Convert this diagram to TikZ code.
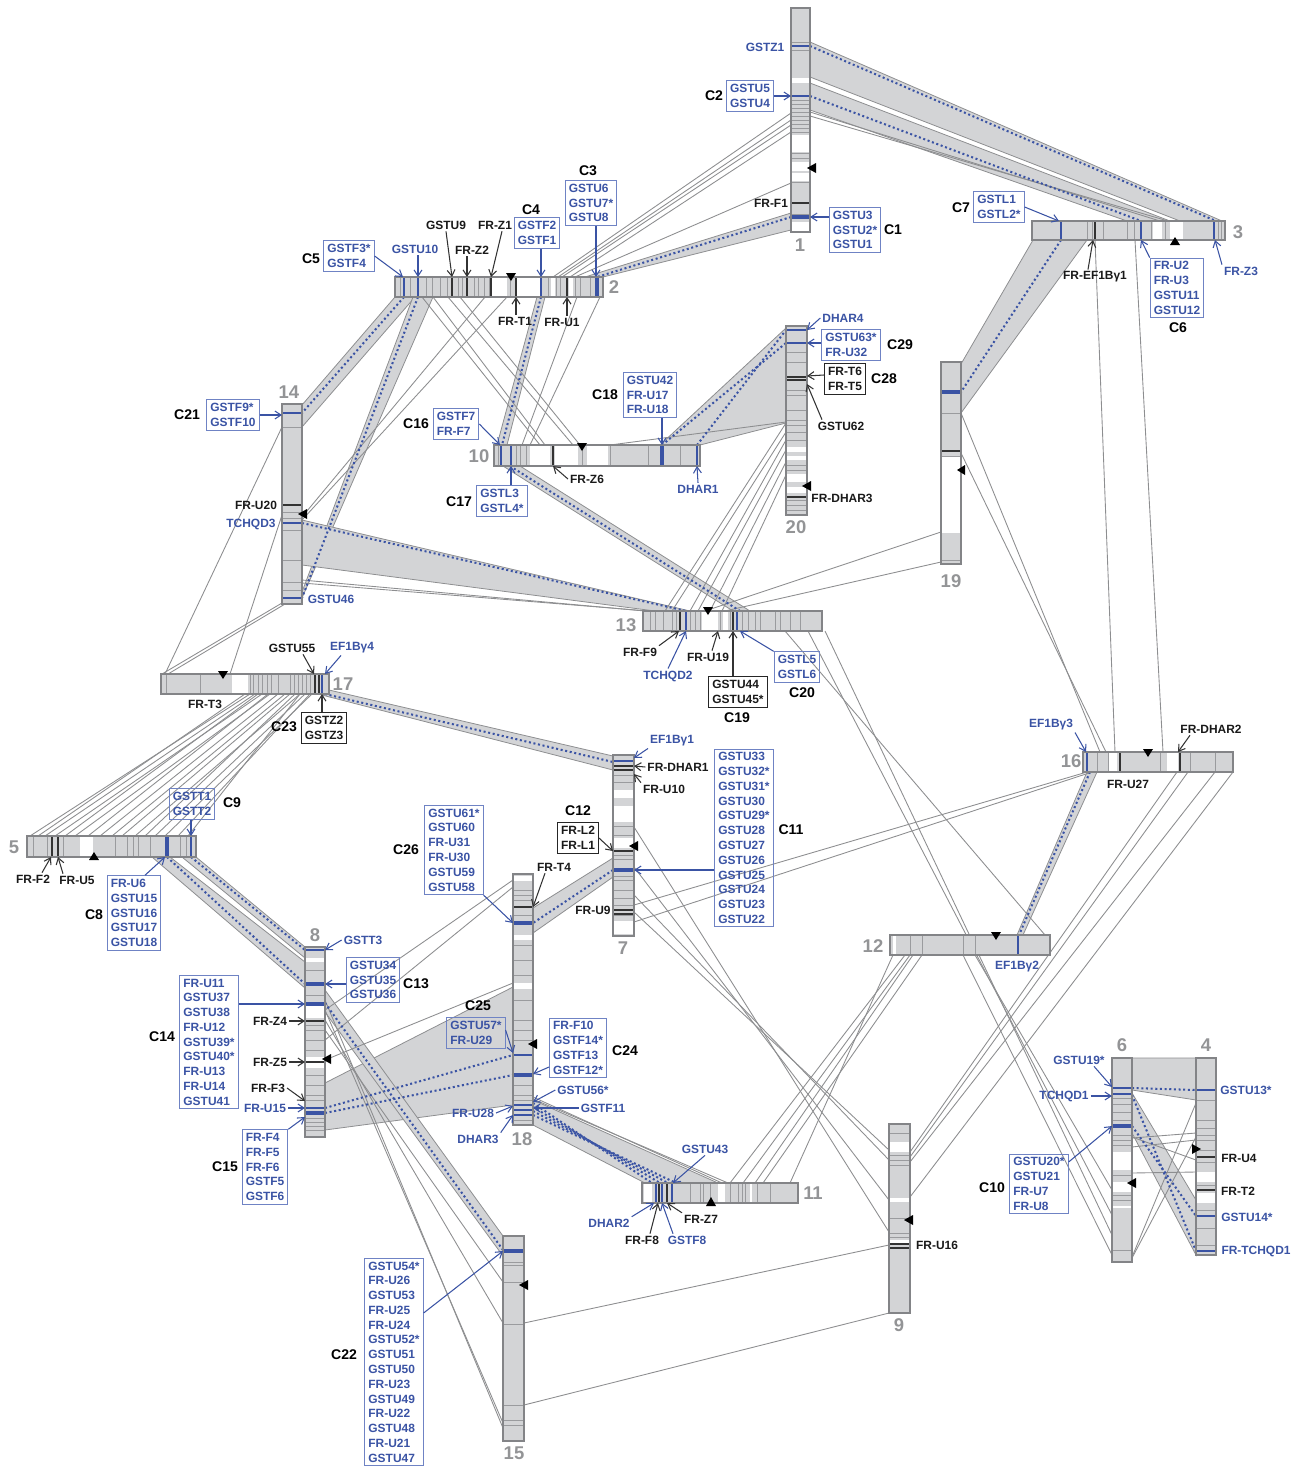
\documentclass[tikz,border=0pt]{standalone}
\usepackage{fontspec}
\setmainfont{Liberation Sans}
\usetikzlibrary{arrows.meta,fit}
\definecolor{synblue}{HTML}{3A53A4}
\definecolor{boxblue}{HTML}{6F83C4}
\definecolor{bandgray}{HTML}{D3D4D6}
\definecolor{linegray}{HTML}{8D8E90}
\definecolor{chrgray}{HTML}{838487}
\definecolor{divgray}{HTML}{9A9B9E}
\definecolor{numgray}{HTML}{939496}

\begin{document}
\begin{tikzpicture}[x=0.02cm, y=-0.02cm,
  chr/.style={fill=bandgray, inner sep=0pt, outer sep=0pt},
  chredge/.style={draw=chrgray, line width=1.4pt},
  div/.style={draw=divgray, line width=0.5pt},
  bmk/.style={draw=synblue, line width=0.9pt},
  bmkw/.style={draw=synblue, line width=1.8pt},
  kmk/.style={draw=black!80, line width=0.9pt},
  syn/.style={fill=bandgray, draw=linegray, line width=0.45pt},
  lnk/.style={draw=linegray, line width=0.5pt},
  syndot/.style={draw=synblue, line width=1.15pt, dash pattern=on 1.15pt off 1.5pt},
  gbox/.style={draw=boxblue, line width=0.6pt, text=synblue, align=left, inner sep=2pt, font=\fontsize{6.8}{8.4}\selectfont\bfseries},
  kbox/.style={gbox, draw=black!85, text=black!90},
  glab/.style={text=synblue, inner sep=1pt, font=\fontsize{6.8}{8.4}\selectfont\bfseries},
  klab/.style={glab, text=black!90},
  clab/.style={inner sep=1pt, font=\fontsize{8}{9.6}\selectfont\bfseries},
  cnum/.style={text=numgray, inner sep=1pt, font=\fontsize{10.5}{12}\selectfont\bfseries},
  bptr/.style={draw=synblue, line width=0.6pt, -{Straight Barb[length=3.5pt,width=4.5pt]}},
  kptr/.style={bptr, draw=black!80}]
  \useasboundingbox (0,0) rectangle (1301,1468);

  % syntenic blocks
  \path[syn] (810,42) -- (1222,221) -- (1180,221) -- (810,77) -- cycle;
  \path[syn] (810,83) -- (1170,221) -- (1127,221) -- (810,110) -- cycle;
  \path[syn] (791,213) -- (585,277) -- (603,277) -- (791,230) -- cycle;
  \path[syn] (1033,240) -- (1087,240) -- (961,413) -- (961,364) -- cycle;
  \path[syn] (395,297) -- (415,297) -- (302,427) -- (302,405) -- cycle;
  \path[syn] (413,297) -- (433,297) -- (302,598) -- (302,592) -- cycle;
  \path[syn] (302,520) -- (690,611) -- (655,611) -- (302,565) -- cycle;
  \path[syn] (537,297) -- (545,297) -- (507,445) -- (497,445) -- cycle;
  \path[syn] (503,466) -- (520,466) -- (750,611) -- (733,611) -- cycle;
  \path[syn] (660,445) -- (786,328) -- (786,423) -- (700,445) -- cycle;
  \path[syn] (329,690) -- (613,756) -- (613,770) -- (318,694) -- cycle;
  \path[syn] (152,857) -- (170,857) -- (305,962) -- (305,988) -- cycle;
  \path[syn] (182,857) -- (196,857) -- (305,947) -- (305,958) -- cycle;
  \path[syn] (325,1083) -- (513,987) -- (513,1105) -- (325,1130) -- cycle;
  \path[syn] (325,990) -- (503,1236) -- (503,1256) -- (325,1012) -- cycle;
  \path[syn] (533,1100) -- (718,1183) -- (645,1183) -- (533,1125) -- cycle;
  \path[syn] (613,858) -- (613,877) -- (533,933) -- (533,908) -- cycle;
  \path[syn] (1087,772) -- (1097,772) -- (1023,935) -- (1017,935) -- cycle;
  \path[syn] (1132,1058) -- (1196,1058) -- (1196,1100) -- (1132,1090) -- cycle;
  \path[syn] (1132,1093) -- (1196,1200) -- (1196,1255) -- (1132,1133) -- cycle;

  % single links
  \foreach \a/\b/\c/\d in {791/113/553/277, 791/120/558/277, 791/125/562/277, 791/132/570/277, 791/183/575/277,
      810/112/1160/221, 810/116/1168/221,
      422/297/540/445, 433/297/545/445, 448/297/573/445, 460/297/580/445, 577/297/522/445, 600/297/530/445,
      485/297/302/517, 507/297/302/520,
      282/427/165/674, 282/515/230/674, 282/603/162/674, 285/604/168/674,
      302/580/645/611, 302/583/648/611, 610/445/786/422,
      786/423/665/611, 786/432/672/611, 786/440/690/611, 786/450/698/611, 786/462/710/611, 786/475/722/611,
      941/532/705/611, 941/562/725/611, 961/413/1100/752, 961/453/1106/752,
      1095/240/1115/752, 1135/240/1163/752,
      785/631/1045/935, 808/631/1112/1215, 825/631/1112/1235,
      963/955/1112/1255, 975/955/1112/1190,
      905/955/730/1183, 910/955/743/1183, 913/955/755/1183, 922/955/763/1183, 893/955/790/1183,
      1177/772/910/1152, 1188/772/910/1157, 1215/772/910/1162, 1233/772/910/1197,
      1087/772/634/905, 1092/772/634/922,
      634/827/889/1232, 634/867/889/1200, 634/895/889/1160, 634/912/889/1150,
      524/1323/889/1245, 524/1405/889/1313,
      325/1000/503/1428, 325/1010/503/1423, 325/1020/503/1323, 325/1030/503/1282,
      325/1010/513/880, 325/1040/513/887, 325/1060/513/983,
      533/1097/722/1183, 533/1099/728/1183,
      1132/1138/1196/1133, 1132/1147/1196/1140, 1132/1137/1196/1160, 1132/1173/1196/1172,
      1196/1103/1132/1257, 1196/1137/1132/1258}
    \draw[lnk] (\a,\b) -- (\c,\d);
  % fan between 17 and 5
  \foreach \a/\b in {30/250, 38/245, 45/255, 55/262, 65/258, 75/270, 88/268, 100/278,
                     112/285, 122/290, 135/300, 145/295, 155/305, 165/312, 178/310, 188/300}
    \draw[lnk] (\a,836) -- (\b,694);

  % orthologous pairs
  \foreach \a/\b/\c/\d in {810/46/1216/221, 810/96/1141/221, 791/217/597/277, 1061/240/961/392,
      404/297/302/413, 418/297/302/598, 302/523/686/611, 541/297/502/445, 510/466/740/611,
      662/445/786/343, 697/445/786/330, 325/694/613/762, 167/857/305/984, 191/857/305/950,
      325/1003/503/1250, 325/1108/513/1055, 325/1113/513/1075,
      533/1103/652/1183, 533/1107/660/1183, 533/1111/668/1183, 533/1115/676/1183,
      613/870/533/923, 1090/772/1019/935, 1132/1088/1196/1090, 1132/1095/1196/1251, 1132/1126/1196/1216}
    \draw[syndot] (\a,\b) -- (\c,\d);

  % chromosomes
  \foreach \n/\xa/\ya/\xb/\yb in {1/791/8/810/232, 2/395/277/603/297, 3/1032/221/1225/240,
      4/1196/1058/1216/1255, 5/27/836/196/857, 6/1112/1058/1132/1262, 7/613/755/634/936,
      8/305/947/325/1137, 9/889/1124/910/1313, 10/494/445/700/466, 11/642/1183/798/1203,
      12/890/935/1050/955, 13/643/611/822/631, 14/282/404/302/604, 15/503/1236/524/1441,
      16/1083/752/1233/772, 17/161/674/329/694, 18/513/874/533/1125, 19/941/362/961/564,
      20/786/326/807/515}
    \node[chr, fit={(\xa,\ya) (\xb,\yb)}] (c\n) {};

  % 1
  \foreach \a/\b in {78/83, 135/152, 162/171, 173/181, 222/231} \fill[white] (791,\a) rectangle (810,\b);
  \foreach \y in {42,50,100,104,108,112,116,120,124,128,132,153,158,182,214} \draw[div] (791,\y) -- (810,\y);
  \draw[kmk] (791,203) -- (810,203);
  \foreach \y in {46,96} \draw[bmk] (791,\y) -- (810,\y);
  \draw[bmkw] (791,217) -- (810,217);
  % 2
  \foreach \a/\b in {492/507, 517/540, 551/555, 569/573} \fill[white] (\a,277) rectangle (\b,297);
  \foreach \x in {400,410,426,432,440,447,458,462,474,478,484,489,510,548,556,560,575,580,590} \draw[div] (\x,277) -- (\x,297);
  \foreach \x in {452,467,491,516,567} \draw[kmk] (\x,277) -- (\x,297);
  \foreach \x in {404,418,541} \draw[bmk] (\x,277) -- (\x,297);
  \draw[bmkw] (597,277) -- (597,297);
  % 3
  \foreach \a/\b in {1153/1162, 1170/1183} \fill[white] (\a,221) rectangle (\b,240);
  \foreach \x in {1087,1092,1103,1127,1134,1151,1165,1218,1221} \draw[div] (\x,221) -- (\x,240);
  \draw[kmk] (1095,221) -- (1095,240);
  \foreach \x in {1061,1141,1214} \draw[bmk] (\x,221) -- (\x,240);
  % 14
  \foreach \y in {427,512,518,530,560,582,590} \draw[div] (282,\y) -- (302,\y);
  \draw[kmk] (282,505) -- (302,505);
  \foreach \y in {413,523,598} \draw[bmk] (282,\y) -- (302,\y);
  % 10
  \foreach \a/\b in {530/550, 555/578, 587/608} \fill[white] (\a,445) rectangle (\b,466);
  \foreach \x in {498,516,520,526,582,610,648,680} \draw[div] (\x,445) -- (\x,466);
  \draw[kmk] (553,445) -- (553,466);
  \foreach \x in {501,511,697} \draw[bmk] (\x,445) -- (\x,466);
  \draw[bmkw] (662,445) -- (662,466);
  % 20
  \foreach \a/\b in {447/452, 456/460, 474/482, 487/493} \fill[white] (786,\a) rectangle (807,\b);
  \foreach \y in {352,362,390,395,410,420,425,432,440,465,470,500,505,510} \draw[div] (786,\y) -- (807,\y);
  \foreach \y in {377,380,497} \draw[kmk] (786,\y) -- (807,\y);
  \foreach \y in {330,343} \draw[bmk] (786,\y) -- (807,\y);
  % 19
  \fill[white] (941,457) rectangle (961,533);
  \foreach \y in {413,456,560} \draw[div] (941,\y) -- (961,\y);
  \draw[kmk] (941,451) -- (961,451);
  \draw[bmkw] (941,392) -- (961,392);
  % 13
  \foreach \a/\b in {702/718, 723/728} \fill[white] (\a,611) rectangle (\b,631);
  \foreach \x in {650,655,663,672,676,690,695,700,720,730,742,748,755,760,775,780,790,800} \draw[div] (\x,611) -- (\x,631);
  \draw[kmk] (680,611) -- (680,631);
  \draw[kmk, line width=1.6pt] (733,611) -- (733,631);
  \foreach \x in {686,737} \draw[bmk] (\x,611) -- (\x,631);
  % 17
  \fill[white] (232,674) rectangle (248,694);
  \foreach \x in {166,200,250,253,258,262,267,271,278,290,294,298,302,306,310} \draw[div] (\x,674) -- (\x,694);
  \foreach \x in {315,319} \draw[kmk] (\x,674) -- (\x,694);
  \draw[bmk] (322,674) -- (322,694);
  % 5
  \fill[white] (80,836) rectangle (93,857);
  \foreach \x in {33,47,63,115,127,133,138,150,180,186} \draw[div] (\x,836) -- (\x,857);
  \foreach \x in {52,58} \draw[kmk] (\x,836) -- (\x,857);
  \draw[bmk] (191,836) -- (191,857);
  \draw[bmkw] (167,836) -- (167,857);
  % 7
  \foreach \a/\b in {790/798, 806/822, 838/848, 921/934} \fill[white] (613,\a) rectangle (634,\b);
  \foreach \y in {775,782,826,835,855,859,876,880,890,898,905,915} \draw[div] (613,\y) -- (634,\y);
  \foreach \y in {766,770,851,910,914} \draw[kmk] (613,\y) -- (634,\y);
  \draw[bmk] (613,761) -- (634,761);
  \draw[bmkw] (613,870) -- (634,870);
  % 8
  \foreach \a/\b in {958/962, 1006/1018, 1057/1068} \fill[white] (305,\a) rectangle (325,\b);
  \foreach \y in {970,995,1025,1030,1040,1050,1075,1085,1095,1100,1118,1122,1126,1130} \draw[div] (305,\y) -- (325,\y);
  \foreach \y in {1021,1062} \draw[kmk] (305,\y) -- (325,\y);
  \foreach \y in {950,1108} \draw[bmk] (305,\y) -- (325,\y);
  \foreach \y in {984,1004,1113} \draw[bmkw] (305,\y) -- (325,\y);
  % 18
  \foreach \a/\b in {876/881, 935/940, 983/989} \fill[white] (513,\a) rectangle (533,\b);
  \foreach \y in {890,895,900,915,945,960,975,1000,1020,1030,1040,1085,1095,1100,1120} \draw[div] (513,\y) -- (533,\y);
  \draw[kmk] (513,907) -- (533,907);
  \foreach \y in {1055,1105,1110,1115} \draw[bmk] (513,\y) -- (533,\y);
  \foreach \y in {923,1075} \draw[bmkw] (513,\y) -- (533,\y);
  % 16
  \foreach \a/\b in {1109/1117, 1167/1178} \fill[white] (\a,752) rectangle (\b,772);
  \foreach \x in {1097,1108,1160,1190,1215} \draw[div] (\x,752) -- (\x,772);
  \foreach \x in {1120,1180} \draw[kmk] (\x,752) -- (\x,772);
  \draw[bmk] (1087,752) -- (1087,772);
  % 12
  \fill[white] (893,935) rectangle (896,955);
  \foreach \x in {910,922,963,975} \draw[div] (\x,935) -- (\x,955);
  \draw[bmk] (1018,935) -- (1018,955);
  % 11
  \foreach \a/\b in {644/652, 718/725, 750/752} \fill[white] (\a,1183) rectangle (\b,1203);
  \foreach \x in {690,700,703,710,730,738,742,745,757,770} \draw[div] (\x,1183) -- (\x,1203);
  \foreach \x in {659,667} \draw[kmk] (\x,1183) -- (\x,1203);
  \foreach \x in {656,662,672} \draw[bmk] (\x,1183) -- (\x,1203);
  % 15
  \foreach \y in {1262,1265,1282,1324,1405,1420,1425} \draw[div] (503,\y) -- (524,\y);
  \draw[bmkw] (503,1251) -- (524,1251);
  % 9
  \foreach \a/\b in {1142/1152, 1198/1202, 1240/1243} \fill[white] (889,\a) rectangle (910,\b);
  \foreach \y in {1133,1155,1160,1165,1218,1233,1237} \draw[div] (889,\y) -- (910,\y);
  \foreach \y in {1244,1248} \draw[kmk] (889,\y) -- (910,\y);
  % 6
  \foreach \a/\b in {1152/1170, 1182/1192, 1206/1208} \fill[white] (1112,\a) rectangle (1132,\b);
  \foreach \y in {1098,1104,1112,1120,1135,1140,1145,1175,1195,1200,1250} \draw[div] (1112,\y) -- (1132,\y);
  \foreach \y in {1088,1094} \draw[bmk] (1112,\y) -- (1132,\y);
  \draw[bmkw] (1112,1126) -- (1132,1126);
  % 4
  \foreach \a/\b in {1172/1182, 1193/1203} \fill[white] (1196,\a) rectangle (1216,\b);
  \foreach \y in {1100,1120,1128,1135,1140,1150,1162,1185,1210,1228,1245} \draw[div] (1196,\y) -- (1216,\y);
  \foreach \y in {1157,1190} \draw[kmk] (1196,\y) -- (1216,\y);
  \foreach \y in {1090,1216,1251} \draw[bmk] (1196,\y) -- (1216,\y);

  % outlines
  \foreach \n in {1,...,20} \draw[chredge] (c\n.south west) rectangle (c\n.north east);

  % centromeres
  \fill (807,168) -- (816,163) -- (816,173) -- cycle;
  \fill (511,281) -- (506,273) -- (516,273) -- cycle;
  \fill (1175,237) -- (1170,245) -- (1180,245) -- cycle;
  \fill (298,514) -- (307,509) -- (307,519) -- cycle;
  \fill (582,451) -- (577,443) -- (587,443) -- cycle;
  \fill (802,486) -- (811,481) -- (811,491) -- cycle;
  \fill (957,470) -- (965,465) -- (965,475) -- cycle;
  \fill (708,615) -- (703,607) -- (713,607) -- cycle;
  \fill (223,679) -- (218,671) -- (228,671) -- cycle;
  \fill (94,852) -- (89,860) -- (99,860) -- cycle;
  \fill (322,1059) -- (331,1054) -- (331,1064) -- cycle;
  \fill (629,846) -- (638,841) -- (638,851) -- cycle;
  \fill (528,1044) -- (537,1039) -- (537,1049) -- cycle;
  \fill (1148,757) -- (1143,749) -- (1153,749) -- cycle;
  \fill (996,940) -- (991,932) -- (1001,932) -- cycle;
  \fill (711,1197) -- (706,1206) -- (716,1206) -- cycle;
  \fill (519,1285) -- (528,1280) -- (528,1290) -- cycle;
  \fill (904,1220) -- (913,1215) -- (913,1225) -- cycle;
  \fill (1127,1183) -- (1136,1178) -- (1136,1188) -- cycle;
  \fill (1201,1149) -- (1192,1144) -- (1192,1154) -- cycle;

  % chromosome numbers
  \foreach \n/\x/\y in {1/800/245, 2/614/287, 3/1238/232, 4/1206/1045, 5/14/847, 6/1122/1045,
      7/623/948, 8/315/935, 9/899/1325, 10/479/456, 11/813/1193, 12/873/946, 13/626/625,
      14/289/392, 15/514/1453, 16/1071/761, 17/343/684, 18/522/1139, 19/951/581, 20/796/527}
    \node[cnum] (n\n) at (\x,\y) {\n};

  % labels on 1
  \node[glab] (lZ1) at (765,47) {GSTZ1};
  \node[clab] (tC2) at (714,96) {C2};
  \node[gbox] (bC2) at (750,96) {GSTU5\\GSTU4};
  \node[klab] (lF1) at (771,203) {FR-F1};
  \node[gbox] (bC1) at (855,230) {GSTU3\\GSTU2*\\GSTU1};
  \node[clab] (tC1) at (893,230) {C1};
  \draw[bptr] (bC2.east) -- (bC2.east -| c1.west);
  \draw[bptr] (bC1.west |- 0,217) -- (c1.east |- 0,217);

  % labels on 2
  \node[clab] (tC3) at (588,171) {C3};
  \node[gbox] (bC3) at (591,203) {GSTU6\\GSTU7*\\GSTU8};
  \node[clab] (tC4) at (531,210) {C4};
  \node[gbox] (bC4) at (537,233) {GSTF2\\GSTF1};
  \node[klab] (lU9) at (446,225) {GSTU9};
  \node[klab] (lZ1b) at (495,225) {FR-Z1};
  \node[klab] (lZ2) at (472,250) {FR-Z2};
  \node[glab] (lU10) at (415,249) {GSTU10};
  \node[clab] (tC5) at (311,259) {C5};
  \node[gbox] (bC5) at (349,256) {GSTF3*\\GSTF4};
  \node[klab] (lT1) at (515,321) {FR-T1};
  \node[klab] (lU1) at (562,322) {FR-U1};
  \draw[bptr] (bC3.south -| 596,0) -- (c2.north -| 596,0);
  \draw[bptr] (bC4.south -| 541,0) -- (c2.north -| 541,0);
  \draw[kptr] (lU9.south) -- (c2.north -| 452,0);
  \draw[kptr] (lZ1b.south -| 502,0) -- (c2.north -| 491,0);
  \draw[kptr] (lZ2.south -| 467,0) -- (c2.north -| 467,0);
  \draw[bptr] (lU10.south -| 418,0) -- (c2.north -| 418,0);
  \draw[bptr] (bC5.east) -- (c2.north -| 403,0);
  \draw[kptr] (lT1.north -| 516,0) -- (c2.south -| 516,0);
  \draw[kptr] (lU1.north -| 567,0) -- (c2.south -| 567,0);

  % labels on 3
  \node[clab] (tC7) at (961,208) {C7};
  \node[gbox] (bC7) at (999,207) {GSTL1\\GSTL2*};
  \node[klab] (lEF1) at (1095,277) {FR-EF1Bγ1};
  \node[gbox] (bC6) at (1177,288) {FR-U2\\FR-U3\\GSTU11\\GSTU12};
  \node[clab] (tC6) at (1178,328) {C6};
  \node[glab] (lZ3) at (1241,271) {FR-Z3};
  \draw[bptr] (bC7.east) -- (c3.north -| 1059,0);
  \draw[kptr] (lEF1.north -| 1088,0) -- (c3.south -| 1093,0);
  \draw[bptr] (bC6.north west) -- (c3.south -| 1141,0);
  \draw[bptr] (lZ3.north west) -- (c3.south -| 1215,0);

  % labels on 20
  \node[glab] (lD4) at (843,318) {DHAR4};
  \node[gbox] (bC29) at (851,345) {GSTU63*\\FR-U32};
  \node[clab] (tC29) at (900,345) {C29};
  \node[kbox] (bC28) at (845,379) {FR-T6\\FR-T5};
  \node[clab] (tC28) at (884,379) {C28};
  \node[klab] (lU62) at (841,426) {GSTU62};
  \node[klab] (lDH3) at (842,498) {FR-DHAR3};
  \draw[bptr] (lD4.west) -- (c20.east |- 0,330);
  \draw[bptr] (bC29.west |- 0,343) -- (c20.east |- 0,343);
  \draw[kptr] (bC28.west |- 0,375) -- (c20.east |- 0,376);
  \draw[kptr] (lU62.north -| 822,0) -- (c20.east |- 0,384);

  % labels on 10
  \node[clab] (tC18) at (605,395) {C18};
  \node[gbox] (bC18) at (650,395) {GSTU42\\FR-U17\\FR-U18};
  \node[glab] (lD1) at (698,489) {DHAR1};
  \node[clab] (tC16) at (416,424) {C16};
  \node[gbox] (bC16) at (456,424) {GSTF7\\FR-F7};
  \node[clab] (tC17) at (459,502) {C17};
  \node[gbox] (bC17) at (502,501) {GSTL3\\GSTL4*};
  \node[klab] (lZ6) at (587,479) {FR-Z6};
  \draw[bptr] (bC18.south -| 662,0) -- (c10.north -| 662,0);
  \draw[bptr] (lD1.north) -- (c10.south -| 697,0);
  \draw[bptr] (bC16.east) -- (c10.north -| 500,0);
  \draw[bptr] (bC17.north -| 511,0) -- (c10.south -| 511,0);
  \draw[kptr] (lZ6.west) -- (c10.south -| 553,0);

  % labels on 14
  \node[clab] (tC21) at (187,415) {C21};
  \node[gbox] (bC21) at (233,415) {GSTF9*\\GSTF10};
  \node[klab] (lU20) at (256,505) {FR-U20};
  \node[glab] (lQ3) at (251,524) {TCHQD3};
  \node[glab] (lU46) at (331,599) {GSTU46};
  \draw[bptr] (bC21.east) -- (bC21.east -| c14.west);

  % labels on 13
  \node[klab] (lF9) at (640,652) {FR-F9};
  \node[glab] (lQ2) at (668,676) {TCHQD2};
  \node[klab] (lU19) at (708,657) {FR-U19};
  \node[kbox] (bC19) at (738,692) {GSTU44\\GSTU45*};
  \node[clab] (tC19) at (737,718) {C19};
  \node[gbox] (bC20) at (797,667) {GSTL5\\GSTL6};
  \node[clab] (tC20) at (802,693) {C20};
  \draw[kptr] (lF9.north east) -- (c13.south -| 679,0);
  \draw[bptr] (lQ2.north) -- (c13.south -| 686,0);
  \draw[kptr] (lU19.north -| 712,0) -- (c13.south -| 718,0);
  \draw[kptr] (bC19.north -| 733,0) -- (c13.south -| 733,0);
  \draw[bptr] (bC20.north west) -- (c13.south -| 740,0);

  % labels on 17
  \node[klab] (lU55) at (292,648) {GSTU55};
  \node[glab] (lE4) at (352,648) {EF1Bγ4};
  \node[klab] (lT3) at (205,704) {FR-T3};
  \node[clab] (tC23) at (284,727) {C23};
  \node[kbox] (bC23) at (324,728) {GSTZ2\\GSTZ3};
  \draw[kptr] (lU55.south -| 303,0) -- (c17.north -| 314,0);
  \draw[bptr] (lE4.south -| 341,0) -- (c17.north -| 325,0);
  \draw[kptr] (bC23.north -| 322,0) -- (c17.south -| 322,0);

  % labels on 7
  \node[glab] (lE1) at (672,741) {EF1Bγ1};
  \node[klab] (lDH1) at (678,767) {FR-DHAR1};
  \node[klab] (lU10b) at (664,789) {FR-U10};
  \node[clab] (tC12) at (578,811) {C12};
  \node[kbox] (bC12) at (578,838) {FR-L2\\FR-L1};
  \node[gbox] (bC11) at (744,838) {GSTU33\\GSTU32*\\GSTU31*\\GSTU30\\GSTU29*\\GSTU28\\GSTU27\\GSTU26\\GSTU25\\GSTU24\\GSTU23\\GSTU22};
  \node[clab] (tC11) at (791,830) {C11};
  \node[klab] (lT4) at (554,867) {FR-T4};
  \node[klab] (lU9b) at (593,910) {FR-U9};
  \node[gbox] (bC26) at (454,850) {GSTU61*\\GSTU60\\FR-U31\\FR-U30\\GSTU59\\GSTU58};
  \node[clab] (tC26) at (406,850) {C26};
  \draw[bptr] (lE1.south west) -- (c7.east |- 0,758);
  \draw[kptr] (lDH1.west) -- (c7.east |- 0,766);
  \draw[kptr] (lU10b.north west) -- (c7.east |- 0,774);
  \draw[kptr] (bC12.east) -- (c7.west |- 0,851);
  \draw[bptr] (bC11.west |- 0,870) -- (c7.east |- 0,870);
  \draw[kptr] (lT4.south -| 545,0) -- (c18.east |- 0,907);
  \draw[bptr] (bC26.south east) -- (c18.west |- 0,923);

  % labels on 5
  \node[gbox] (bC9) at (192,804) {GSTT1\\GSTT2};
  \node[clab] (tC9) at (232,803) {C9};
  \node[klab] (lF2) at (33,879) {FR-F2};
  \node[klab] (lU5) at (77,880) {FR-U5};
  \node[clab] (tC8) at (94,915) {C8};
  \node[gbox] (bC8) at (134,913) {FR-U6\\GSTU15\\GSTU16\\GSTU17\\GSTU18};
  \draw[bptr] (bC9.south -| 191,0) -- (c5.north -| 191,0);
  \draw[kptr] (lF2.north -| 42,0) -- (c5.south -| 51,0);
  \draw[kptr] (lU5.north -| 63,0) -- (c5.south -| 58,0);
  \draw[bptr] (bC8.north -| 145,0) -- (c5.south -| 165,0);

  % labels on 8
  \node[glab] (lT3b) at (363,940) {GSTT3};
  \node[gbox] (bC13) at (373,980) {GSTU34\\GSTU35\\GSTU36};
  \node[clab] (tC13) at (416,984) {C13};
  \node[clab] (tC14) at (162,1037) {C14};
  \node[gbox] (bC14) at (209,1042) {FR-U11\\GSTU37\\GSTU38\\FR-U12\\GSTU39*\\GSTU40*\\FR-U13\\FR-U14\\GSTU41};
  \node[klab] (lZ4) at (270,1021) {FR-Z4};
  \node[klab] (lZ5) at (270,1062) {FR-Z5};
  \node[klab] (lF3) at (268,1088) {FR-F3};
  \node[glab] (lU15) at (265,1108) {FR-U15};
  \node[clab] (tC15) at (225,1167) {C15};
  \node[gbox] (bC15) at (265,1167) {FR-F4\\FR-F5\\FR-F6\\GSTF5\\GSTF6};
  \draw[bptr] (lT3b.west) -- (c8.east |- 0,950);
  \draw[bptr] (bC13.west |- 0,984) -- (c8.east |- 0,984);
  \draw[bptr] (bC14.east |- 0,1004) -- (c8.west |- 0,1004);
  \draw[kptr] (lZ4.east) -- (c8.west |- 0,1021);
  \draw[kptr] (lZ5.east) -- (c8.west |- 0,1062);
  \draw[kptr] (lF3.east) -- (c8.west |- 0,1101);
  \draw[bptr] (lU15.east) -- (c8.west |- 0,1108);
  \draw[bptr] (bC15.north east) -- (c8.west |- 0,1117);

  % labels on 18
  \node[clab] (tC25) at (478,1006) {C25};
  \node[gbox] (bC25) at (476,1033) {GSTU57*\\FR-U29};
  \node[gbox] (bC24) at (578,1048) {FR-F10\\GSTF14*\\GSTF13\\GSTF12*};
  \node[clab] (tC24) at (625,1051) {C24};
  \node[glab] (lU56) at (583,1090) {GSTU56*};
  \node[glab] (lF11) at (603,1108) {GSTF11};
  \node[glab] (lU28) at (473,1113) {FR-U28};
  \node[glab] (lD3) at (478,1139) {DHAR3};
  \draw[bptr] (bC25.east |- 0,1030) -- (c18.west |- 0,1053);
  \draw[bptr] (bC24.west |- 0,1067) -- (c18.east |- 0,1074);
  \draw[bptr] (lU56.west) -- (c18.east |- 0,1102);
  \draw[bptr] (lF11.west) -- (c18.east |- 0,1108);
  \draw[bptr] (lU28.east) -- (c18.west |- 0,1106);
  \draw[bptr] (lD3.north east) -- (c18.west |- 0,1115);

  % labels on 11
  \node[glab] (lU43) at (705,1149) {GSTU43};
  \node[glab] (lD2) at (609,1223) {DHAR2};
  \node[klab] (lF8) at (642,1240) {FR-F8};
  \node[glab] (lF8b) at (687,1240) {GSTF8};
  \node[klab] (lZ7) at (701,1219) {FR-Z7};
  \draw[bptr] (lU43.south) -- (c11.north -| 673,0);
  \draw[bptr] (lD2.north east) -- (c11.south -| 654,0);
  \draw[kptr] (lF8.north -| 650,0) -- (c11.south -| 658,0);
  \draw[bptr] (lF8b.north -| 673,0) -- (c11.south -| 662,0);
  \draw[kptr] (lZ7.north west) -- (c11.south -| 667,0);

  % labels on 15
  \node[clab] (tC22) at (344,1355) {C22};
  \node[gbox] (bC22) at (394,1362) {GSTU54*\\FR-U26\\GSTU53\\FR-U25\\FR-U24\\GSTU52*\\GSTU51\\GSTU50\\FR-U23\\GSTU49\\FR-U22\\GSTU48\\FR-U21\\GSTU47};
  \draw[bptr] (bC22.east |- 0,1313) -- (c15.west |- 0,1251);

  % labels on 16, 12, 9
  \node[glab] (lE3) at (1051,725) {EF1Bγ3};
  \node[klab] (lDH2) at (1211,729) {FR-DHAR2};
  \node[klab] (lU27) at (1128,784) {FR-U27};
  \node[glab] (lE2) at (1017,967) {EF1Bγ2};
  \node[klab] (lU16) at (937,1245) {FR-U16};
  \draw[bptr] (lE3.south east) -- (c16.north -| 1086,0);
  \draw[kptr] (lDH2.south -| 1190,0) -- (c16.north -| 1178,0);

  % labels on 6 and 4
  \node[glab] (lU19b) at (1079,1060) {GSTU19*};
  \node[glab] (lQ1) at (1064,1096) {TCHQD1};
  \node[clab] (tC10) at (992,1188) {C10};
  \node[gbox] (bC10) at (1039,1184) {GSTU20*\\GSTU21\\FR-U7\\FR-U8};
  \node[glab] (lU13) at (1246,1090) {GSTU13*};
  \node[klab] (lU4) at (1239,1158) {FR-U4};
  \node[klab] (lT2) at (1238,1191) {FR-T2};
  \node[glab] (lU14) at (1247,1217) {GSTU14*};
  \node[glab] (lQ1b) at (1256,1251) {FR-TCHQD1};
  \draw[bptr] (lU19b.south -| 1094,0) -- (c6.west |- 0,1087);
  \draw[bptr] (lQ1.east) -- (c6.west |- 0,1096);
  \draw[bptr] (bC10.east |- 0,1162) -- (c6.west |- 0,1126);
\end{tikzpicture}
\end{document}
